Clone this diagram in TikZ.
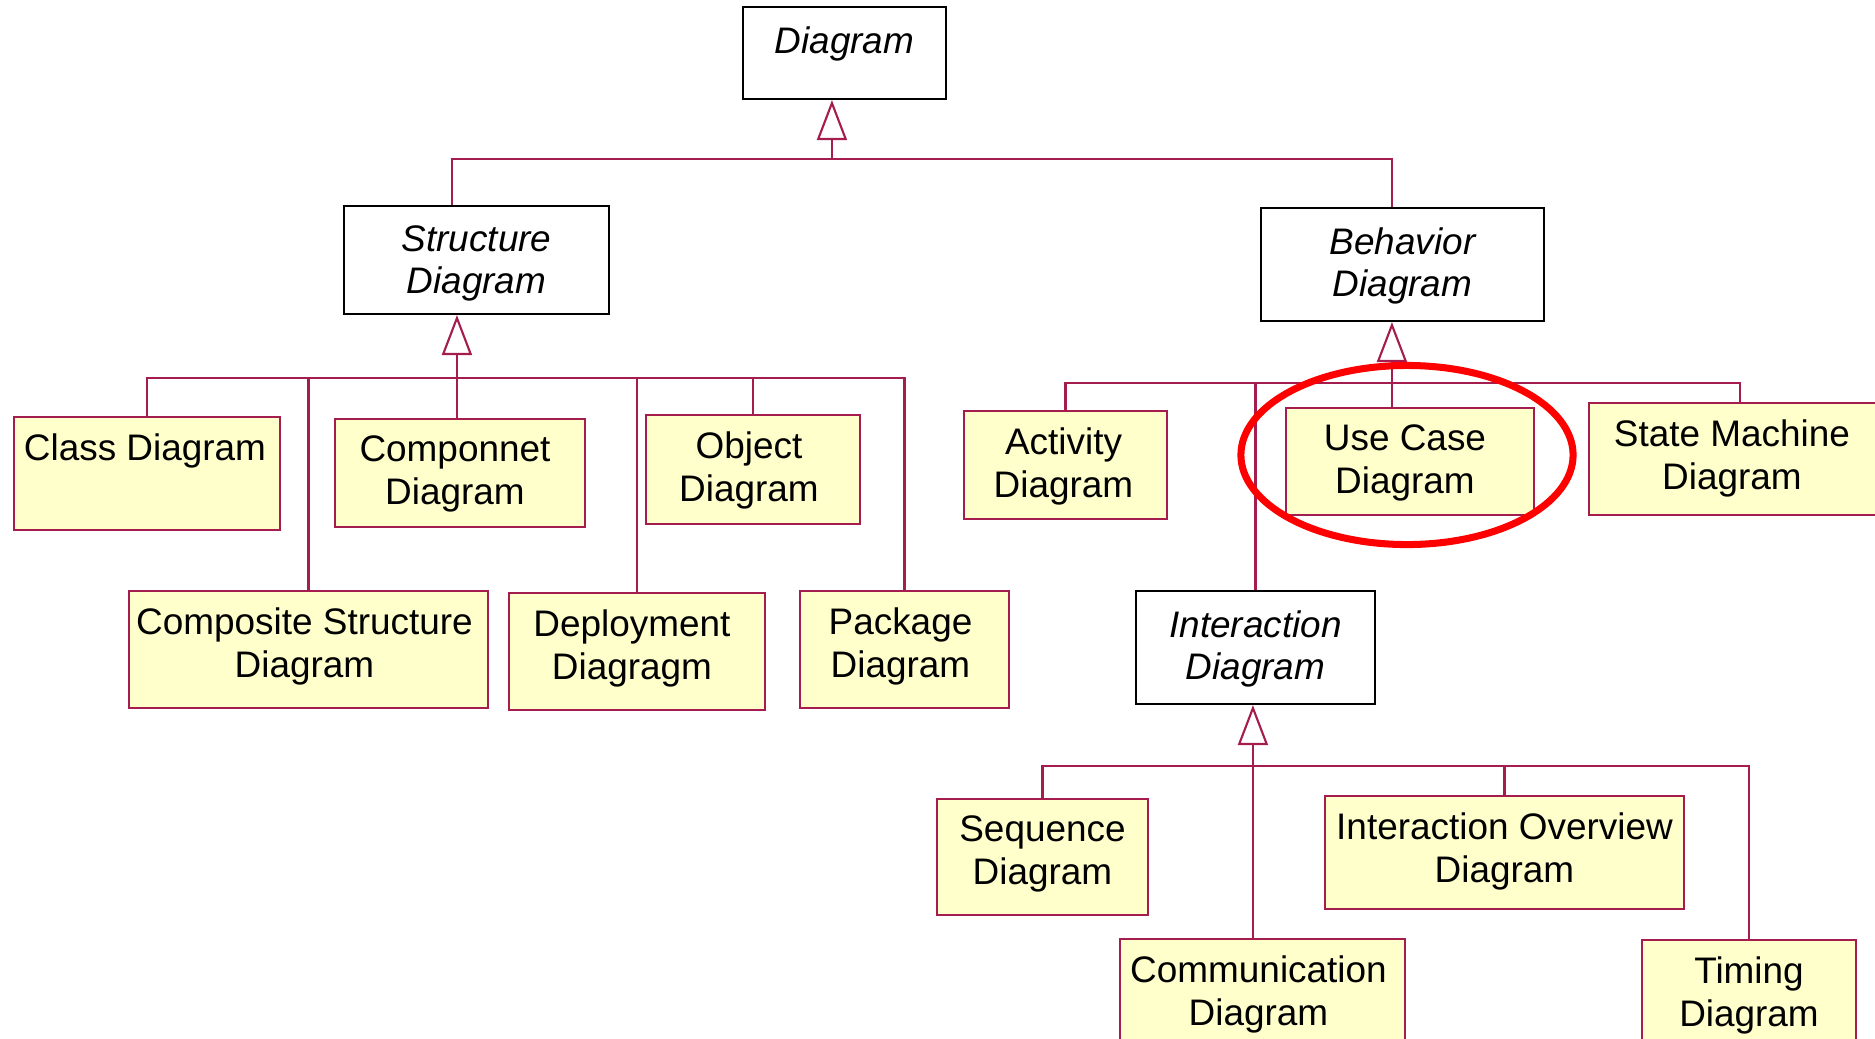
\documentclass[tikz,border=0pt]{standalone}
\usepackage{fontspec}
\setmainfont{Liberation Sans}
\usetikzlibrary{arrows.meta,fit}

\definecolor{umlline}{HTML}{A51C4E}
\definecolor{umlfill}{HTML}{FFFFCC}
\definecolor{hilite}{HTML}{FF0000}

\begin{document}
\begin{tikzpicture}[x=0.01cm, y=-0.01cm,
  boxbase/.style={inner sep=0pt, line width=0.6pt},
  abstract/.style={boxbase, draw=black, fill=white},
  concrete/.style={boxbase, draw=umlline, fill=umlfill},
  lbl/.style={anchor=north, inner sep=0pt, align=center,
    font=\fontsize{10.5}{12}\selectfont},
  ilbl/.style={lbl, font=\fontsize{10.5}{12}\selectfont\itshape},
  link/.style={draw=umlline, line width=0.6pt},
  gen/.style={link, -{Triangle[open, length=4mm, width=3mm]}}
]
\useasboundingbox (0,0) rectangle (1875,1038);
\clip (0,0) rectangle (1875,1038);

% abstract diagram kinds
\node[abstract, fit={(743,7) (946,99)}]     (dg) {};
\node[abstract, fit={(344,206) (609,314)}]  (sd) {};
\node[abstract, fit={(1261,208) (1544,321)}] (bd) {};
\node[abstract, fit={(1136,591) (1375,704)}] (id) {};

% structure diagrams
\node[concrete, fit={(14,417) (280,530)}]   (cls) {};
\node[concrete, fit={(335,419) (585,527)}]  (cmp) {};
\node[concrete, fit={(646,415) (860,524)}]  (obj) {};
\node[concrete, fit={(129,591) (488,708)}]  (csd) {};
\node[concrete, fit={(509,593) (765,710)}]  (dep) {};
\node[concrete, fit={(800,591) (1009,708)}] (pkg) {};

% behavior diagrams
\node[concrete, fit={(964,411) (1167,519)}]  (act) {};
\node[concrete, fit={(1286,408) (1534,515)}] (uc) {};
\node[concrete, fit={(1589,403) (1881,515)}] (sm) {};

% interaction diagrams
\node[concrete, fit={(937,799) (1148,915)}]   (seq) {};
\node[concrete, fit={(1325,796) (1684,909)}]  (io) {};
\node[concrete, fit={(1120,939) (1405,1056)}] (com) {};
\node[concrete, fit={(1642,940) (1856,1057)}] (tim) {};

% labels
\node[ilbl] (dgT)  at ([yshift=-0.2cm]dg.north)  {Diagram};
\node[ilbl] (sdT)  at ([yshift=-0.2cm]sd.north)  {Structure\\Diagram};
\node[ilbl] (bdT)  at ([yshift=-0.2cm]bd.north)  {Behavior\\Diagram};
\node[ilbl] (idT)  at ([yshift=-0.2cm]id.north)  {Interaction\\Diagram};

\node[lbl] (clsT) at ([yshift=-0.175cm,xshift=-0.02cm]cls.north) {Class Diagram};
\node[lbl] (cmpT) at ([yshift=-0.175cm,xshift=-0.05cm]cmp.north) {Componnet\\Diagram};
\node[lbl] (objT) at ([yshift=-0.175cm,xshift=-0.04cm]obj.north) {Object\\Diagram};
\node[lbl] (csdT) at ([yshift=-0.175cm,xshift=-0.04cm]csd.north) {Composite Structure\\Diagram};
\node[lbl] (depT) at ([yshift=-0.175cm,xshift=-0.05cm]dep.north) {Deployment\\Diagragm};
\node[lbl] (pkgT) at ([yshift=-0.175cm,xshift=-0.04cm]pkg.north) {Package\\Diagram};
\node[lbl] (actT) at ([yshift=-0.175cm,xshift=-0.02cm]act.north) {Activity\\Diagram};
\node[lbl] (ucT)  at ([yshift=-0.175cm,xshift=-0.05cm]uc.north)  {Use Case\\Diagram};
\node[lbl] (smT)  at ([yshift=-0.175cm,xshift=-0.03cm]sm.north)  {State Machine\\Diagram};
\node[lbl] (seqT) at ([yshift=-0.175cm]seq.north) {Sequence\\Diagram};
\node[lbl] (ioT)  at ([yshift=-0.175cm]io.north)  {Interaction Overview\\Diagram};
\node[lbl] (comT) at ([yshift=-0.175cm,xshift=-0.04cm]com.north) {Communication\\Diagram};
\node[lbl] (timT) at ([yshift=-0.175cm]tim.north) {Timing\\Diagram};

% attachment points of the generalization trees
\path (dg.south west) ++(90,0)  coordinate (dgA) ++(0,59) coordinate (dgJ);
\path (sd.north west) ++(109,0) coordinate (sdTop);
\path (bd.north west) ++(132,0) coordinate (bdTop);
\path (sd.south west) ++(114,0) coordinate (sdA) ++(0,63) coordinate (sdJ);
\path (bd.south west) ++(132,0) coordinate (bdA) ++(0,61) coordinate (bdJ);
\path (id.south west) ++(118,0) coordinate (idA) ++(0,61) coordinate (idJ);
\path (sm.north west) ++(152,0) coordinate (smTop);

% Diagram generalization
\draw[link] (sdTop) |- (dgJ) -| (bdTop);
\draw[gen] (dgJ) -- (dgA);

% Structure Diagram generalization
\draw[link] (cls.north) |- (sdJ) -| (pkg.north);
\draw[link] (csd.north) -- (csd.north |- sdJ);
\draw[link] (sdJ) -- (sdJ |- cmp.north);
\draw[link] (dep.north) -- (dep.north |- sdJ);
\draw[link] (obj.north) -- (obj.north |- sdJ);
\draw[gen] (sdJ) -- (sdA);

% Behavior Diagram generalization
\draw[link] (act.north) |- (bdJ) -| (smTop);
\draw[link] (bdJ) -- (bdJ |- uc.north);
\draw[link] (id.north) -- (id.north |- bdJ);
\draw[gen] (bdJ) -- (bdA);

% Interaction Diagram generalization
\draw[link] (seq.north) |- (idJ) -| (tim.north);
\draw[link] (idJ) -- (idJ |- com.north);
\draw[link] (io.north) -- (io.north |- idJ);
\draw[gen] (idJ) -- (idA);

% highlight around the use case diagram
\draw[hilite, line width=2pt] (1407,455) ellipse [x radius=1.66cm, y radius=0.895cm];
\end{tikzpicture}
\end{document}
